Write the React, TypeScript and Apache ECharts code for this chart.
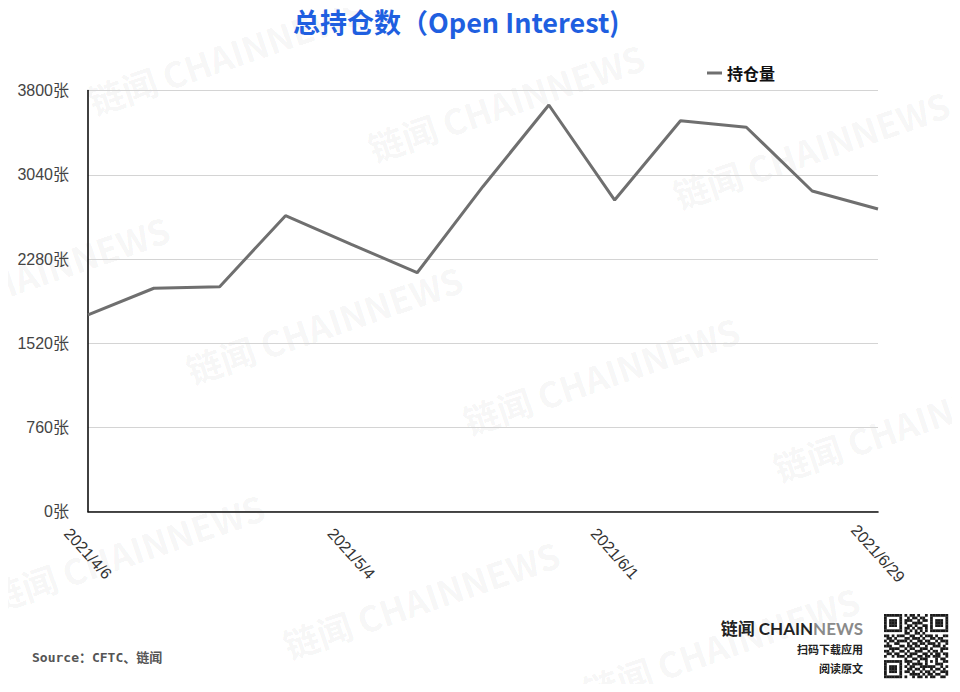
import React, { useEffect, useRef } from "react";
import * as echarts from "echarts";

const categories = [
  "2021/4/6", "2021/4/13", "2021/4/20", "2021/4/27", "2021/5/4", "2021/5/11", "2021/5/18",
  "2021/5/25", "2021/6/1", "2021/6/8", "2021/6/15", "2021/6/22", "2021/6/29",
];
const openInterest = [1775, 2016, 2030, 2671, 2413, 2156, 2935, 3670, 2812, 3528, 3469, 2894, 2731];
const yTicks = [0, 760, 1520, 2280, 3040, 3800];
const yUnit = "张";
const seriesName = "持仓量";
const titleText = "总持仓数（Open Interest)";
const sourceText = "Source：CFTC、链闻";

const watermarkAnchors: [number, number][] = [
  [95, 118], [375, 165], [680, 212], [970, 260],
  [-100, 337], [193, 387], [470, 438], [780, 485],
  [-5, 615], [290, 662], [590, 708],
];

const qrRows = [
  "1111111010110100101111111",
  "1000001001011011001000001",
  "1011101011100101101011101",
  "1011101010011110001011101",
  "1011101001101001101011101",
  "1000001011010110101000001",
  "1111111010101010101111111",
  "0000000011001101000000000",
  "1101011100110010111010011",
  "0110100011011101001101100",
  "1011011110100110110010111",
  "0100110001011011011101001",
  "1110001101101100100111010",
  "0011110010110011101000111",
  "1101001101001110010110100",
  "0110110010111001101011011",
  "1001011101100110110111001",
  "0000000010011011100010110",
  "1111111011100100101010011",
  "1000001001011110100011100",
  "1011101010110011111100101",
  "1011101001101101001011010",
  "1011101011010010110100111",
  "1000001000111101011011001",
  "1111111010010110101100110",
];

const FONT = "'Liberation Sans', 'Noto Sans CJK SC', sans-serif";
const CJK = "'Noto Sans CJK SC', sans-serif";

export default function App() {
  const ref = useRef<HTMLDivElement>(null);
  useEffect(() => {
    if (!ref.current) return;
    const chart = echarts.init(ref.current, null, { renderer: "svg" });

    const graphics: any[] = [];
    watermarkAnchors.forEach(([x, y]) => {
      graphics.push({
        type: "text",
        x,
        y,
        rotation: 0.33,
        z: 0,
        silent: true,
        style: {
          text: "链闻 CHAINNEWS",
          fill: "rgba(0,0,0,0.05)",
          font: `bold 35px ${CJK}`,
          textAlign: "left",
          textVerticalAlign: "bottom",
        },
      });
    });

    const qrX = 884, qrY = 614, cell = 64 / 25;
    qrRows.forEach((row, r) => {
      for (let c = 0; c < row.length; c++) {
        if (row[c] === "1") {
          graphics.push({
            type: "rect",
            silent: true,
            z: 10,
            shape: { x: qrX + c * cell, y: qrY + r * cell, width: cell + 0.2, height: cell + 0.2 },
            style: { fill: "#1a1a1a" },
          });
        }
      }
    });

    graphics.push(
      {
        type: "text",
        x: 32,
        y: 657,
        z: 10,
        style: {
          text: sourceText,
          fill: "#555",
          font: `bold 13px 'DejaVu Sans Mono', ${CJK}`,
          textAlign: "left",
          textVerticalAlign: "middle",
        },
      },
      {
        type: "text",
        x: 863,
        y: 628,
        z: 10,
        style: {
          text: "{a|链闻 CHAIN}{b|NEWS}",
          textAlign: "right",
          textVerticalAlign: "middle",
          rich: {
            a: { fill: "#222", font: `bold 17px Lato, ${CJK}` },
            b: { fill: "#8a8a8a", font: `bold 17px Lato, ${CJK}` },
          },
        },
      },
      {
        type: "text",
        x: 863,
        y: 649,
        z: 10,
        style: {
          text: "扫码下载应用",
          fill: "#222",
          font: `bold 11px ${CJK}`,
          textAlign: "right",
          textVerticalAlign: "middle",
        },
      },
      {
        type: "text",
        x: 863,
        y: 668,
        z: 10,
        style: {
          text: "阅读原文",
          fill: "#222",
          font: `bold 11px ${CJK}`,
          textAlign: "right",
          textVerticalAlign: "middle",
        },
      }
    );

    chart.setOption({
      animation: false,
      backgroundColor: "#fff",
      title: {
        text: titleText,
        left: 288,
        top: 3,
        textStyle: { color: "#1f5fe0", fontSize: 27, fontWeight: "bold", fontFamily: CJK },
      },
      legend: {
        left: 702,
        top: 60,
        icon: "rect",
        itemWidth: 15,
        itemHeight: 3,
        itemGap: 8,
        textStyle: { color: "#111", fontSize: 16, fontWeight: "bold", fontFamily: CJK },
        data: [seriesName],
      },
      grid: { left: 88, right: 82, top: 90.6, bottom: 180.4, containLabel: false },
      xAxis: {
        type: "category",
        data: categories,
        boundaryGap: false,
        axisLine: { show: true, lineStyle: { color: "#111", width: 1.6 } },
        axisTick: { show: false },
        axisLabel: {
          interval: 3,
          rotate: -48,
          align: "center",
          verticalAlign: "middle",
          margin: 42,
          color: "#333",
          fontSize: 16,
          fontFamily: FONT,
        },
      },
      yAxis: {
        type: "value",
        min: yTicks[0],
        max: yTicks[yTicks.length - 1],
        interval: yTicks[1] - yTicks[0],
        axisLine: { show: true, lineStyle: { color: "#111", width: 1.6 } },
        axisTick: { show: false },
        splitLine: { show: true, lineStyle: { color: "#d4d4d4", width: 1 } },
        axisLabel: {
          formatter: (v: number) => `${v}${yUnit}`,
          margin: 19,
          color: "#444",
          fontSize: 16,
          fontFamily: FONT,
        },
      },
      series: [
        {
          name: seriesName,
          type: "line",
          data: openInterest,
          showSymbol: false,
          symbol: "none",
          z: 5,
          lineStyle: { color: "#6f6f6f", width: 3 },
          itemStyle: { color: "#6f6f6f" },
        },
      ],
      graphic: graphics,
    });

    return () => chart.dispose();
  }, []);
  return <div ref={ref} style={{ width: 960, height: 692, margin: -8 }} />;
}
